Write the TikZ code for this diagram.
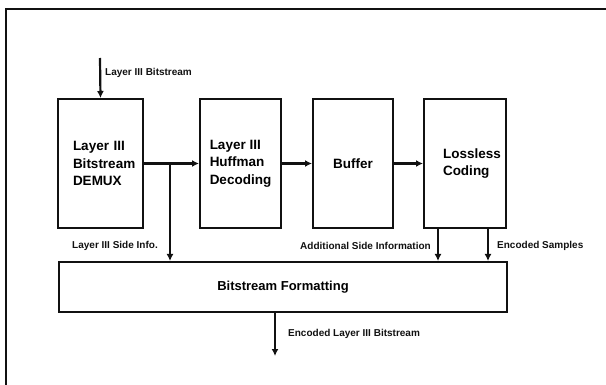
\documentclass[tikz,border=0pt]{standalone}
\usepackage{fontspec}
\setmainfont{Liberation Sans}
\usepackage{tikz}
\usetikzlibrary{arrows.meta,positioning}
\definecolor{ink}{HTML}{111111}
\tikzset{
  blockbox/.style={draw=ink,line width=2pt,minimum width=82pt,minimum height=129pt,
                   inner sep=0pt,align=left,font=\fontsize{13.5}{17.5}\selectfont\bfseries},
  formatbox/.style={draw=ink,line width=2pt,minimum width=448pt,minimum height=50pt,
                    inner sep=0pt,font=\fontsize{13}{15}\selectfont\bfseries},
  sigarr/.style={-{Latex[length=7pt,width=7pt]},line width=2.2pt,color=ink},
  siglabel/.style={font=\fontsize{10}{12}\selectfont\bfseries,inner sep=1pt,text=ink}
}
\begin{document}
\begin{tikzpicture}[x=1pt,y=-1pt]
  \useasboundingbox (0,0) rectangle (606,385);
  % scan border
  \draw[ink,line width=1.2pt] (6,385) -- (6,9) -- (606,9);

  \node[blockbox,minimum width=85pt,text width=55pt] (demux) at (100.5,163.5) {Layer III\\Bitstream\\DEMUX};
  \node[blockbox,minimum width=81pt] (huffman) at (240.5,163.5) {Layer III\\Huffman\\Decoding};
  \node[blockbox,minimum width=80pt,align=center] (buffer) at (353,163.5) {Buffer};
  \node[blockbox,minimum width=82pt,text width=44pt] (lossless) at (465,163.5) {Lossless\\Coding\\[3pt]};
  \node[formatbox] (format) at (283,287) {Bitstream Formatting};

  % input and chain
  \coordinate (in) at (100,58);
  \draw[sigarr] (in) -- (demux.north);
  \node[siglabel,anchor=west] (inlbl) at (104,73) {Layer III Bitstream};
  \draw[sigarr] (demux) -- (huffman);
  \draw[sigarr] (huffman) -- (buffer);
  \draw[sigarr] (buffer) -- (lossless);

  % side info down to formatting
  \coordinate (split) at (170,163.5);
  \draw[sigarr] (split) -- (split |- format.north);
  \node[siglabel,anchor=east] (sidelbl) at (159,246) {Layer III Side Info.};
  \draw[sigarr] ([xshift=-27pt]lossless.south) -- ([xshift=-27pt]lossless.south |- format.north);
  \node[siglabel,anchor=east] (addlbl) at (432,246) {Additional Side Information};
  \draw[sigarr] ([xshift=23pt]lossless.south) -- ([xshift=23pt]lossless.south |- format.north);
  \node[siglabel,anchor=west] (samplbl) at (496,246) {Encoded Samples};

  % output
  \coordinate (out) at (275,356);
  \draw[sigarr] (out |- format.south) -- (out);
  \node[siglabel,anchor=west] (outlbl) at (287,334) {Encoded Layer III Bitstream};
\end{tikzpicture}
\end{document}
